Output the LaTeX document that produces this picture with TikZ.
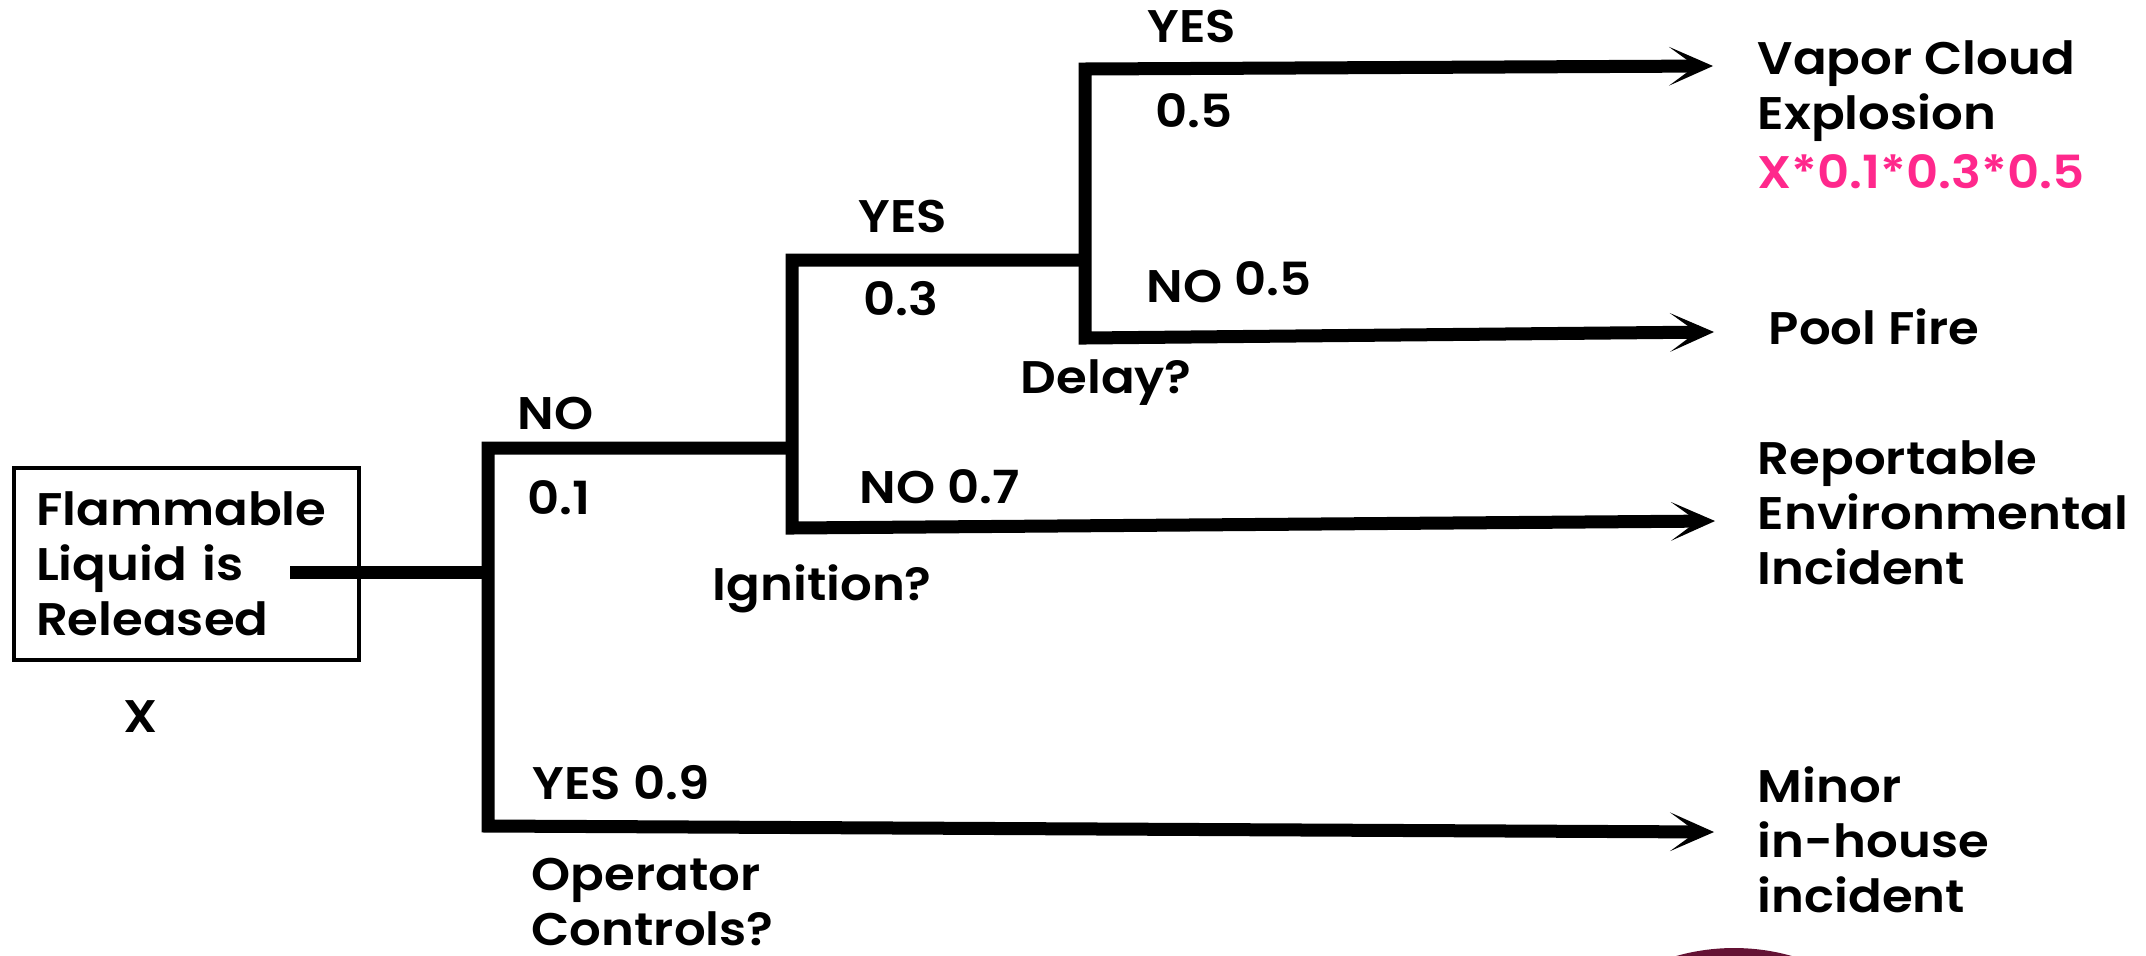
\documentclass[tikz,border=0pt]{standalone}
\usepackage{fontspec}
\setmainfont{Poppins SemiBold}[FakeStretch=1.09]
\usetikzlibrary{arrows.meta}
\definecolor{hotpink}{RGB}{255,40,140}
\definecolor{logomaroon}{RGB}{100,18,52}

\tikzset{
    tree/.style={line width=3.7pt},
    tip/.style={-{Stealth[length=12.5pt,width=11pt,inset=7.5pt]}},
    lbl/.style={anchor=base west, inner sep=0pt, font=\fontsize{13}{15.6}\selectfont},
    blk/.style={anchor=west, inner sep=0pt, align=left, font=\fontsize{13}{15.6}\selectfont},
}

\begin{document}
\begin{tikzpicture}
    \useasboundingbox (0,0) rectangle (21.46,-9.55);
    \begin{scope}
        \clip (0,0) rectangle (21.46,-9.55);
        \fill[logomaroon] (17.34,-11.60) circle (2.12);
    \end{scope}

    % event that starts the tree
    \node[draw, line width=1pt, minimum width=3.45cm, minimum height=1.92cm,
          text width=3.01cm, inner xsep=0.22cm, inner ysep=0pt, align=left,
          font=\fontsize{13}{15.6}\selectfont] (release) at (1.865,-5.64)
          {Flammable\\Liquid is\\Released};
    \node[lbl] (freq) at (1.23,-7.32) {X};

    % junctions
    \coordinate (stem)  at (2.90,-5.72);
    \coordinate (opj)   at (4.88,-5.72);
    \coordinate (opno)  at (4.88,-4.48);
    \coordinate (opyes) at (4.88,-8.26);
    \coordinate (ign)   at (7.92,-4.48);
    \coordinate (ignyes) at (7.92,-2.60);
    \coordinate (ignno) at (7.92,-5.28);
    \coordinate (dly)   at (10.85,-2.60);
    \coordinate (dlyyes) at (10.85,-0.69);
    \coordinate (dlyno) at (10.85,-3.38);

    % outcomes
    \node[blk] (vce) at (17.57,-1.15)
        {Vapor Cloud\\Explosion\\[0.04cm]\textcolor{hotpink}{X*0.1*0.3*0.5}};
    \node[lbl] (pool) at (17.68,-3.44) {Pool Fire};
    \node[blk] (envi) at (17.57,-5.13) {Reportable\\Environmental\\Incident};
    \node[blk] (minor) at (17.57,-8.40) {Minor\\in-house\\incident};

    \coordinate (vceend)   at (17.13,-0.66);
    \coordinate (poolend)  at (17.14,-3.32);
    \coordinate (enviend)  at (17.15,-5.21);
    \coordinate (minorend) at (17.14,-8.32);

    % branches
    \draw[tree] (stem) -- (opj);
    \draw[tree, tip] (ign) -- (opno) -- (opyes) -- (minorend);
    \draw[tree, tip] (dly) -- (ignyes) -- (ignno) -- (enviend);
    \draw[tree, {Stealth[length=12.5pt,width=11pt,inset=7.5pt]}-{Stealth[length=12.5pt,width=11pt,inset=7.5pt]}]
        (vceend) -- (dlyyes) -- (dlyno) -- (poolend);

    % branch labels
    \node[lbl] (opnolbl) at (5.17,-4.29) {NO};
    \node[lbl] (opnop) at (5.27,-5.14) {0.1};
    \node[lbl] (opyeslbl) at (5.32,-7.99) {YES 0.9};
    \node[blk] (opq) at (5.31,-9.02) {Operator\\Controls?};

    \node[lbl] (ignyeslbl) at (8.58,-2.32) {YES};
    \node[lbl] (ignyesp) at (8.63,-3.15) {0.3};
    \node[lbl] (ignnolbl) at (8.59,-5.03) {NO 0.7};
    \node[lbl] (ignq) at (7.12,-6.00) {Ignition?};

    \node[lbl] (dlyyeslbl) at (11.47,-0.42) {YES};
    \node[lbl] (dlyyesp) at (11.55,-1.27) {0.5};
    \node[lbl] (dlynolbl) at (11.46,-3.02) {NO \raisebox{0.07cm}{0.5}};
    \node[lbl] (dlyq) at (10.20,-3.93) {Delay?};
\end{tikzpicture}
\end{document}
